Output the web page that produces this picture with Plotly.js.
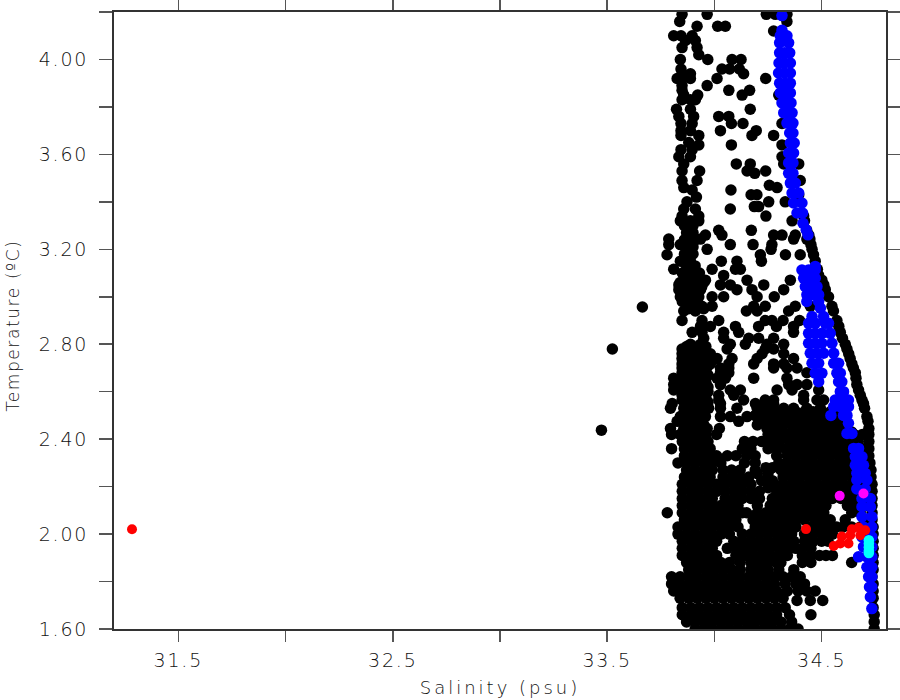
<!DOCTYPE html>
<html><head><meta charset="utf-8">
<script src="https://cdn.plot.ly/plotly-3.0.1.min.js"></script>
<style>
html,body{margin:0;padding:0;background:#fff}
.xtick text,.ytick text{letter-spacing:1.8px}
.xtitle{letter-spacing:3px}
.ytitle{letter-spacing:1.6px}
.g-ytitle{transform:translate(-15px,5px)}
.g-xtitle{transform:translate(0,6px)}
</style></head><body>
<div id="chart" style="width:900px;height:700px"></div>
<script>
const xTickVals=[31.5,32,32.5,33,33.5,34,34.5];
const xTickText=['31.5','','32.5','','33.5','','34.5'];
const yTickVals=[1.6,1.8,2.0,2.2,2.4,2.6,2.8,3.0,3.2,3.4,3.6,3.8,4.0,4.2];
const yTickText=['1.60','','2.00','','2.40','','2.80','','3.20','','3.60','','4.00',''];

const blackTemp=[4.19,4.16,4.14,4.12,4.10,4.08,4.05,4.02,4.00,3.96,3.94,3.92,3.89,3.87,3.85,3.83,3.79,3.76,3.73,3.70,3.68,3.65,3.64,3.62,3.59,3.56,3.53,3.52,3.49,3.47,3.46,3.45,3.43,3.42,3.40,3.38,3.37,3.34,
3.32,3.28,3.26,3.243,3.22,3.20,3.177,3.15,3.116,3.09,3.07,3.05,3.03,3.0,2.96,2.94,2.90,2.875,2.85,2.825,2.80,2.78,2.76,2.74,2.717,2.70,2.68,2.657,2.63,2.607,2.585,2.565,2.55,2.53,2.495,2.475,2.445,
2.42,2.39,2.36,2.33,2.30,2.27,2.24,2.21,2.18,2.15,2.12,2.09,2.06,2.03,2.00,1.97,1.94,1.91,1.88,1.85,1.82,1.79,1.76,1.73,1.72,1.69,1.66,1.63,1.60];
const blackSal=[
[33.849,33.966,34.242,34.284,34.338],[33.838,34.338],[34.015,34.051,33.919],[34.276],[33.81,33.844,33.896],[33.911,33.865],[33.849,33.919],[33.927],[33.841,33.969,34.124,34.082],
[33.844,34.035,34.071,34.116],[33.888,33.849,34.136],[34.012,33.888,33.826,33.849,34.239],[33.966,33.849],[34.164,34.067,33.849],[34.129,33.922,33.857,34.3],[33.911,33.849,33.888],[33.823,33.888,34.167],
[33.834,33.903,34.02,34.067],[33.896,34.079,34.133,33.844,34.315],[34.028,33.888,34.195,33.844],[34.175,34.276,33.844,33.927],[33.88],[34.079,33.927,34.315],[33.844,33.896],[33.834,33.888,34.315],
[33.857,34.102,34.167,34.393,34.323],[33.849,34.152,33.931,34.239],[34.188],[33.849,33.919,34.40],[34.256],[34.292,33.857],[33.896,34.077],[34.171,34.198,34.393],[33.916],[34.253,33.872,34.33],[34.206,34.186],[34.074,33.857,33.911],[34.24,33.849,33.927,34.416],
[33.841,33.888,33.927,34.362,34.42],[34.02,34.172,33.88,34.43],[33.958,34.035,34.276,34.315,34.377,34.44],[33.787,33.888,33.935,34.369,34.431,34.445],[34.074,34.18,34.268,33.841,33.787,34.45],[33.888,33.966,34.264,34.455],[33.779,34.214,34.331,34.40,33.888,34.462],
[34.032,34.105,33.841,34.219,33.888,34.47],[33.81,33.989,34.121,34.098,33.888,34.48],[33.888,34.043,34.486],[33.865,33.958,34.152,34.354,34.501],[34.23,33.834,33.888,34.074,34.028,34.51],[34.105,33.834,33.888,34.175,34.323,33.935,34.517],
[34.043,33.841,33.888,33.927,34.279,33.989,34.199,34.532],[34.183,34.237,34.377,33.888,33.942,33.989,34.447,34.548],[34.149,34.199,34.346,33.857,33.911,34.555],[33.849,33.942,34.02,34.237,34.268,34.32,34.397,34.571],
[34.098,33.981,34.206,34.289,34.369,33.935,34.58],[34.113,33.896,34.043,34.369,33.942,34.587],[33.95,34.16,34.206,34.276,34.043,34.597],[34.144,34.074,34.245,34.323,34.61,33.888,33.935],[33.849,33.888,33.935,34.059,34.237,34.276,34.618],
[33.981,34.222,34.323,34.626,33.849,33.903,33.95],[34.012,34.199,34.082,34.369,33.849,33.903,33.95,34.633],[34.183,34.276,34.323,33.849,33.903,33.95,33.981,34.067,34.641],[34.276,34.338,34.385,33.849,33.903,33.95,34.028,34.067,34.648],
[34.431,33.849,33.896,33.942,34.028,34.067,34.657],[34.012,34.051,34.338,34.183,33.849,33.903,33.95,33.81,34.66],[34.028,34.346,34.385,34.431,34.664,33.81,33.841,33.919],[34.074,34.121,34.292,34.362,34.486,33.849,33.903,33.95,33.81,34.672],
[34.416,34.02,34.09,34.68,33.849,33.903,33.95],[34.136,34.237,34.276,34.416,34.478,34.509,33.849,33.919,34.02,34.688],[33.803,34.028,34.191,34.237,34.276,34.695],[33.973,33.795,33.903,33.857,34.028,34.105,34.199,34.261,34.323,34.369,34.431,34.494,34.70],
[34.028,34.074,34.152,34.199,34.307,34.369,34.431,34.494,33.841,33.903,33.958,34.711],[34.113,34.245,34.307,34.369,34.431,34.494,33.826,33.88,33.93,34.716],[33.795,33.857,33.903,33.966,34.245,34.307,34.369,34.431,34.494,34.556,34.023,34.72],
[33.80,33.84,33.88,33.92,33.96,34.01,34.25,34.29,34.33,34.37,34.41,34.45,34.49,34.53,34.57,34.61,34.65,34.69,34.72],
[33.85,33.89,33.93,33.97,34.14,34.18,34.22,34.26,34.30,34.35,34.39,34.43,34.47,34.51,34.55,34.59,34.63,34.67,34.72],
[33.80,33.86,33.90,33.94,33.98,34.13,34.17,34.25,34.29,34.33,34.37,34.41,34.45,34.49,34.53,34.57,34.61,34.65,34.69,34.72],
[33.86,33.90,33.94,33.98,34.01,34.06,34.10,34.15,34.19,34.29,34.34,34.38,34.42,34.46,34.50,34.54,34.58,34.62,34.66,34.70,34.72],
[33.83,33.87,33.91,33.95,33.99,34.03,34.14,34.19,34.30,34.34,34.38,34.42,34.46,34.50,34.54,34.58,34.62,34.66,34.70,34.725],
[33.87,33.91,33.95,33.99,34.04,34.08,34.12,34.19,34.31,34.35,34.39,34.43,34.47,34.51,34.55,34.59,34.63,34.67,34.71,34.73],
[33.86,33.90,33.94,33.98,34.04,34.08,34.12,34.16,34.32,34.36,34.40,34.44,34.48,34.52,34.56,34.60,34.64,34.68,34.72,34.73],
[33.85,33.89,33.93,33.97,34.01,34.05,34.09,34.13,34.17,34.28,34.32,34.36,34.40,34.44,34.48,34.52,34.56,34.60,34.64,34.68,34.72,34.735],
[33.85,33.89,33.93,33.97,34.01,34.05,34.09,34.13,34.17,34.21,34.29,34.33,34.37,34.41,34.45,34.49,34.53,34.57,34.61,34.65,34.69,34.735],
[33.85,33.89,33.93,33.97,33.99,34.05,34.09,34.13,34.17,34.21,34.27,34.31,34.35,34.39,34.43,34.47,34.51,34.55,34.59,34.63,34.67,34.71,34.735],
[33.85,33.89,33.93,33.97,33.99,34.03,34.07,34.11,34.20,34.26,34.30,34.34,34.38,34.42,34.46,34.50,34.52,34.62,34.66,34.70,34.735],
[33.78,33.85,33.89,33.93,33.97,34.01,34.05,34.09,34.13,34.15,34.20,34.24,34.28,34.32,34.36,34.40,34.44,34.48,34.51,34.64,34.68,34.735],
[33.86,33.90,33.94,33.98,34.02,34.06,34.10,34.18,34.22,34.26,34.30,34.34,34.38,34.42,34.47,34.51,34.54,34.61,34.70,34.735],
[33.83,33.87,33.91,33.95,33.99,34.03,34.07,34.11,34.19,34.23,34.27,34.31,34.35,34.38,34.45,34.49,34.53,34.57,34.60,34.64,34.68,34.74],
[33.83,33.87,33.91,33.95,33.99,34.03,34.07,34.13,34.17,34.21,34.25,34.29,34.33,34.36,34.42,34.46,34.50,34.55,34.74],
[33.85,33.89,33.93,33.97,34.01,34.09,34.13,34.17,34.21,34.25,34.29,34.33,34.37,34.42,34.46,34.50,34.53,34.74],
[33.85,33.89,33.93,33.97,33.99,34.06,34.10,34.14,34.18,34.22,34.26,34.30,34.34,34.38,34.41,34.45,34.74],
[33.85,33.89,33.93,33.97,34.01,34.10,34.14,34.18,34.22,34.26,34.30,34.34,34.41,34.45,34.49,34.52,34.55,34.74],
[33.87,33.91,33.95,33.99,34.03,34.07,34.12,34.17,34.21,34.25,34.29,34.31,34.41,34.45,34.64,34.74],
[33.88,33.92,33.96,34.00,34.04,34.08,34.12,34.17,34.21,34.25,34.30,34.37,34.74],
[33.80,33.84,33.88,33.92,33.96,34.00,34.04,34.08,34.12,34.16,34.20,34.24,34.28,34.32,34.36,34.40,34.735],
[33.80,33.84,33.88,33.92,33.96,34.00,34.04,34.08,34.12,34.16,34.20,34.24,34.28,34.33,34.38,34.42,34.74],
[33.81,33.85,33.89,33.93,33.97,34.01,34.05,34.09,34.13,34.17,34.21,34.25,34.29,34.34,34.39,34.43,34.47,34.74],
[33.84,33.88,33.92,33.96,34.00,34.04,34.08,34.12,34.16,34.20,34.24,34.28,34.32,34.74],
[34.385,34.447,34.505],
[33.85,33.89,33.93,33.97,34.01,34.05,34.09,34.13,34.17,34.21,34.25,34.29,34.33,34.74],
[33.85,33.89,33.93,33.97,34.01,34.05,34.09,34.13,34.17,34.21,34.25,34.29,34.35,34.45,34.745],
[33.87,33.91,33.95,33.99,34.03,34.07,34.11,34.15,34.19,34.23,34.27,34.31,34.36,34.745],
[33.91,33.95,33.99,34.03,34.07,34.11,34.15,34.19,34.23,34.27,34.31,34.35,34.39,34.745]
];

const bandTemp=[3.30,3.27,3.24,3.21,3.18,3.13,3.10,3.06,3.04,3.01,2.98,2.95,2.79,2.77,2.75,2.73,2.71,2.69,2.67,2.64,2.62,2.60,2.575,2.555,2.54,2.515,2.50,2.48,2.46,2.43,2.28,2.255,2.225,2.195];
const bandSal=[[33.86,33.90],[33.87,33.90],[33.86,33.91],[33.87,33.90],[33.86,33.90],[33.87,33.91],[33.85,33.91,33.93],[33.84,33.87,33.92,33.95],[33.86,33.91,33.94],[33.86,33.91],[33.85,33.88,33.92],[33.88,33.92,33.95],
[33.87,33.90,33.93,33.96],[33.86,33.89,33.92,33.96],[33.87,33.91,33.94,33.97],[33.86,33.89,33.93,33.96],[33.87,33.90,33.93,33.97],[33.87,33.91,33.94,33.96],[33.86,33.90,33.93,33.97],[33.87,33.90,33.94,33.96],[33.86,33.90,33.93,33.97],[33.87,33.91,33.94,33.97],[33.87,33.90,33.93,33.96],[33.88,33.91,33.94,33.97],[33.87,33.90,33.94],
[33.86,33.90,33.94,34.22,34.26,34.30,34.34,34.38,34.42,34.46,34.50,34.54],[33.87,33.91,33.95,34.19,34.25,34.29,34.33,34.37,34.41,34.45,34.49,34.53,34.57],[33.86,33.90,33.94,34.21,34.26,34.31,34.36,34.40,34.44,34.48,34.52,34.56,34.60],[33.87,33.91,33.95,34.20,34.24,34.28,34.32,34.36,34.40,34.44,34.48,34.52,34.56,34.60],[33.86,33.90,33.94,34.28,34.32,34.36,34.40,34.44,34.48,34.52,34.56,34.60,34.64],
[34.24,34.27],[34.20,34.25],[34.22,34.27],[34.25,34.30]];

const blueTemp=[4.185,4.123,4.10,4.07,4.028,3.985,3.943,3.90,3.859,3.817,3.775,3.732,3.69,3.648,3.606,3.564,3.52,3.479,3.437,3.395,3.353,3.31,3.282,3.261,3.128,3.113,3.078,3.043,3.008,2.98,2.952,2.917,2.888,2.846,2.804,2.762,2.72,2.678,2.642,2.60,2.565,2.537,2.50,2.467,2.424,2.361,2.326,2.29,2.256,2.228,2.19,2.15,2.115,2.073,2.03,1.988,1.946,1.904,1.86,1.82,1.777,1.735,1.686];
const blueSal=[[34.315],[34.315],[34.307,34.338],[34.304,34.346],[34.304,34.326,34.351],[34.301,34.326,34.354],[34.299,34.326,34.354],[34.304,34.33,34.354],[34.307,34.33,34.354],[34.315,34.338,34.357],[34.323,34.346,34.362],[34.338,34.354,34.366],[34.351,34.366],[34.354,34.372],[34.346,34.369],[34.346,34.366],[34.346,34.366],[34.354,34.377],[34.362,34.393],[34.369,34.408],[34.385,34.411],[34.413],[34.428],[34.436],[34.47],[34.408,34.439,34.47],[34.416,34.447,34.47],[34.424,34.455,34.478],[34.431,34.463,34.486],[34.431,34.486],[34.494],[34.455,34.509],[34.439,34.47,34.517,34.532],[34.439,34.47,34.501,34.54],[34.439,34.47,34.501,34.548],[34.447,34.478,34.509,34.556],[34.455,34.486,34.556,34.579],[34.47,34.501,34.571,34.587],[34.486,34.579,34.594],[34.587,34.602],[34.563,34.602,34.625],[34.556,34.587,34.625],[34.543,34.602,34.618],[34.625],[34.618,34.641],[34.649,34.672],[34.657,34.688],[34.657,34.695],[34.664,34.703],[34.664,34.711],[34.664,34.703],[34.688,34.727],[34.688,34.727],[34.688,34.734],[34.695,34.734],[34.688,34.734],[34.695,34.734],[34.672,34.711,34.734],[34.711,34.734],[34.719,34.734],[34.723,34.734],[34.727],[34.734]];

const redSal=[31.284,34.427,34.556,34.587,34.625,34.594,34.633,34.641,34.672,34.703,34.68];
const redTemp=[2.02,2.021,1.95,1.96,1.96,1.99,1.995,2.02,2.028,2.016,1.995];
const magentaSal=[34.584,34.695];
const magentaTemp=[2.161,2.171];
const cyanSal=[34.72,34.72,34.72,34.72,34.72];
const cyanTemp=[1.974,1.96,1.945,1.93,1.92];
const strayBlackSal=[33.664,33.524,33.473];
const strayBlackTemp=[2.957,2.78,2.438];

const bx=[...strayBlackSal],by=[...strayBlackTemp];
blackTemp.forEach((t,i)=>blackSal[i].forEach(s=>{bx.push(s);by.push(t);}));
bandTemp.forEach((t,i)=>bandSal[i].forEach(s=>{bx.push(s);by.push(t);}));
const ux=[],uy=[];
blueTemp.forEach((t,i)=>blueSal[i].forEach(s=>{ux.push(s);uy.push(t);}));

function dots(x,y,color,size){return {x,y,type:'scatter',mode:'markers',marker:{color,size,line:{width:0}},hoverinfo:'skip',showlegend:false};}
const data=[dots(bx,by,'#000000',11.5),dots(ux,uy,'#0000ff',11.5),dots(redSal,redTemp,'#ff0000',10),dots(magentaSal,magentaTemp,'#ff00ff',10),dots(cyanSal,cyanTemp,'#00ffff',10.5)];
const fontFam='"DejaVu Sans",sans-serif';
const txt='#111111';
const ax={showgrid:false,zeroline:false,showline:true,linecolor:'#333333',linewidth:2,mirror:'ticks',ticks:'outside',tickcolor:'#555555',tickwidth:1.5,tickmode:'array',automargin:false,tickfont:{family:fontFam,size:19,weight:200,color:txt}};
const layout={width:900,height:700,paper_bgcolor:'#fff',plot_bgcolor:'#fff',showlegend:false,
 margin:{l:114,r:14,t:12,b:71},
 xaxis:Object.assign({},ax,{range:[31.2,34.8],tickvals:xTickVals,ticktext:xTickText,ticklen:11,ticklabelstandoff:2,title:{text:'Salinity (psu)',standoff:6,font:{family:fontFam,size:18,weight:200,color:txt}}}),
 yaxis:Object.assign({},ax,{range:[1.6,4.2],tickvals:yTickVals,ticktext:yTickText,ticklen:13,ticklabelstandoff:7,title:{text:'Temperature (ºC)\u00a0\u00a0\u00a0',standoff:0,font:{family:fontFam,size:17,weight:200,color:txt}}})
};
Plotly.newPlot('chart',data,layout,{displayModeBar:false,staticPlot:true});
</script></body></html>
